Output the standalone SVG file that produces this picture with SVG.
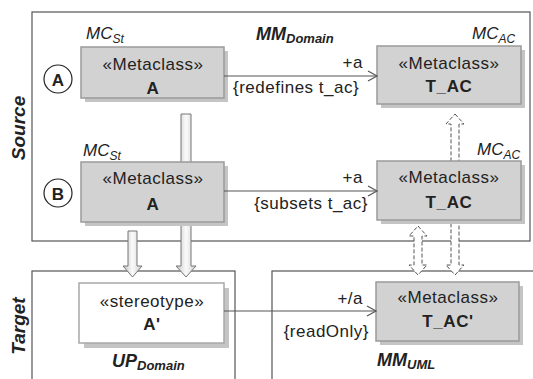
<svg xmlns="http://www.w3.org/2000/svg" width="533" height="379" viewBox="0 0 533 379">
<defs>
<style>
text{font-family:"Liberation Sans",Arial,sans-serif;fill:#222}
.frame{fill:none;stroke:#555;stroke-width:1.2}
.box{fill:#d2d2d2;stroke:#9a9a9a;stroke-width:1.5}
.sbox{fill:#fff;stroke:#a8a8a8;stroke-width:1.5}
.shadow{fill:#c4c4c4}
.st{font-size:17px;letter-spacing:0.5px;text-anchor:middle}
.nm{font-size:17px;font-weight:bold;letter-spacing:0.6px;text-anchor:middle}
.lbl{font-size:17px;letter-spacing:0.5px}
.mc{font-size:17px;font-style:italic}
.ttl{font-size:18px;font-weight:bold;font-style:italic}
.side{font-size:19px;font-weight:bold;font-style:italic;text-anchor:middle}
.conn{fill:none;stroke:#555;stroke-width:1.2}
.blk{fill:url(#g);stroke:#777;stroke-width:1}
.dsh{fill:#fff;stroke:#555;stroke-width:1;stroke-dasharray:4 2}
.circ{fill:#fff;stroke:#222;stroke-width:1.2}
</style>
<linearGradient id="g" x1="0" y1="0" x2="1" y2="0">
<stop offset="0" stop-color="#c4c4c4"/>
<stop offset="0.5" stop-color="#fafafa"/>
<stop offset="1" stop-color="#cfcfcf"/>
</linearGradient>
<marker id="open" markerWidth="12" markerHeight="12" refX="10" refY="6" orient="auto" markerUnits="userSpaceOnUse">
<path d="M1,1 L10,6 L1,11" fill="none" stroke="#555" stroke-width="1.2"/>
</marker>
</defs>

<g id="frames">
<rect class="frame" x="32" y="12" width="498" height="229"/>
<rect class="frame" x="32" y="271" width="203" height="120"/>
<rect class="frame" x="272" y="271" width="270" height="120"/>
<text class="side" transform="translate(25,128) rotate(-90)">Source</text>
<text class="side" transform="translate(25,326) rotate(-90)">Target</text>
<text class="ttl" x="256" y="40">MM<tspan font-size="13" dy="3">Domain</tspan></text>
<text class="ttl" x="112" y="367">UP<tspan font-size="13" dy="3">Domain</tspan></text>
<text class="ttl" x="377" y="366">MM<tspan font-size="13" dy="3">UML</tspan></text>
</g>

<g id="mappings">
<path class="blk" d="M181,114 H191 V266 H196 L186,277 L176,266 H181 Z"/>
<path class="blk" d="M128,231 H137 V266 H142 L132.5,277 L123,266 H128 Z"/>
<path class="dsh" d="M455,114 L464,124 H459 V265 H464 L455,275 L446,265 H451 V124 H446 Z"/>
<path class="dsh" d="M418,226 L427,236 H422 V265 H427 L418,275 L409,265 H414 V236 H409 Z"/>
</g>

<g id="markA">
<circle class="circ" cx="58" cy="79" r="14"/>
<text x="58" y="85.5" font-size="17" font-weight="bold" text-anchor="middle">A</text>
</g>
<g id="markB">
<circle class="circ" cx="58" cy="193" r="14"/>
<text x="58" y="199.5" font-size="17" font-weight="bold" text-anchor="middle">B</text>
</g>

<g id="nodeA1">
<rect class="shadow" x="85" y="51" width="143" height="51"/>
<rect class="box" x="81" y="47" width="143" height="51"/>
<text class="mc" x="86" y="39">MC<tspan font-size="12" dy="4">St</tspan></text>
<text class="st" x="153" y="70">«Metaclass»</text>
<text class="nm" x="153" y="94">A</text>
</g>

<g id="nodeTAC1">
<rect class="shadow" x="381" y="50" width="144" height="58"/>
<rect class="box" x="377" y="46" width="144" height="58"/>
<text class="mc" x="472" y="39">MC<tspan font-size="12" dy="4">AC</tspan></text>
<text class="st" x="449" y="69">«Metaclass»</text>
<text class="nm" x="449" y="92">T_AC</text>
</g>

<g id="nodeA2">
<rect class="shadow" x="85" y="166" width="143" height="60"/>
<rect class="box" x="81" y="162" width="143" height="60"/>
<text class="mc" x="83" y="156">MC<tspan font-size="12" dy="4">St</tspan></text>
<text class="st" x="153" y="184">«Metaclass»</text>
<text class="nm" x="153" y="210">A</text>
</g>

<g id="nodeTAC2">
<rect class="shadow" x="381" y="165" width="144" height="59"/>
<rect class="box" x="377" y="161" width="144" height="59"/>
<text class="mc" x="477" y="155">MC<tspan font-size="12" dy="4">AC</tspan></text>
<text class="st" x="449" y="183">«Metaclass»</text>
<text class="nm" x="449" y="208">T_AC</text>
</g>

<g id="nodeAp">
<rect class="shadow" x="84" y="288" width="145" height="60"/>
<rect class="sbox" x="79" y="283" width="145" height="60"/>
<text class="st" x="152" y="307">«stereotype»</text>
<text class="nm" x="152" y="330">A'</text>
</g>

<g id="nodeTACp">
<rect class="shadow" x="380" y="286" width="143" height="59"/>
<rect class="box" x="376" y="282" width="143" height="59"/>
<text class="st" x="448" y="303">«Metaclass»</text>
<text class="nm" x="448" y="327">T_AC'</text>
</g>

<g id="connectors">
<line class="conn" x1="224" y1="76" x2="377" y2="76" marker-end="url(#open)"/>
<text class="lbl" x="363" y="68" text-anchor="end">+a</text>
<text class="lbl" x="233" y="93">{redefines t_ac}</text>
<line class="conn" x1="224" y1="191" x2="377" y2="191" marker-end="url(#open)"/>
<text class="lbl" x="363" y="183" text-anchor="end">+a</text>
<text class="lbl" x="368" y="209" text-anchor="end">{subsets t_ac}</text>
<line class="conn" x1="224" y1="311" x2="376" y2="311" marker-end="url(#open)"/>
<text class="lbl" x="363" y="304" text-anchor="end">+/a</text>
<text class="lbl" x="369" y="337" text-anchor="end">{readOnly}</text>
</g>
</svg>
